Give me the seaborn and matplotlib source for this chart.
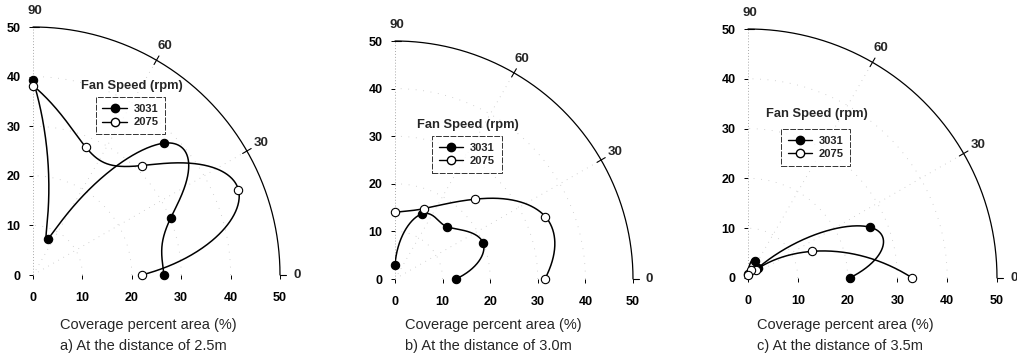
import numpy as np
import pandas as pd
import matplotlib
matplotlib.use("Agg")
import matplotlib.pyplot as plt
import seaborn as sns

sns.set_theme(style="white")
plt.rcParams['font.family'] = ['Liberation Sans', 'DejaVu Sans']

# ---- data (polar: angle in degrees, radius = coverage percent area) ----
angles = [0, 22.5, 45, 67.5, 90]
series_names = ["3031", "2075"]
p1_3031 = [26.5, 30.2, 37.6, 7.8, 39.3]
p1_2075 = [22.0, 45.0, 31.2, 27.9, 38.2]
p2_3031 = [12.8, 20.0, 15.5, 14.8, 3.0]
p2_2075 = [31.5, 34.2, 23.7, 16.0, 14.0]
p3_3031 = [20.4, 26.6, 2.9, 3.7, 0.8]
p3_2075 = [33.0, 14.0, 2.4, 1.8, 0.6]
captions = ["a) At the distance of 2.5m", "b) At the distance of 3.0m", "c) At the distance of 3.5m"]
xlabel = "Coverage percent area (%)"
ticks = [0, 10, 20, 30, 40, 50]
angle_labels = ["0", "30", "60", "90"]
legend_title = "Fan Speed (rpm)"

panels = [(p1_3031, p1_2075), (p2_3031, p2_2075), (p3_3031, p3_2075)]

W, H = 1017, 360
# axes boxes in pixels (left, right, top, bottom) mapping data 0..50
boxes = [(33, 280, 27, 275), (395, 633, 41, 279), (748, 997, 29, 278)]
legend_pos = [((20.0, 38.2), (12.7, 35.8)), ((15.3, 32.4), (7.8, 30.0)), ((13.9, 32.9), (6.6, 29.9))]
caption_left = [60, 405, 757]


def natural_spline(t, y, tt):
    t = np.asarray(t, float)
    y = np.asarray(y, float)
    n = len(t)
    h = np.diff(t)
    A = np.zeros((n, n))
    rhs = np.zeros(n)
    A[0, 0] = 1
    A[-1, -1] = 1
    for i in range(1, n - 1):
        A[i, i - 1] = h[i - 1]
        A[i, i] = 2 * (h[i - 1] + h[i])
        A[i, i + 1] = h[i]
        rhs[i] = 6 * ((y[i + 1] - y[i]) / h[i] - (y[i] - y[i - 1]) / h[i - 1])
    M = np.linalg.solve(A, rhs)
    idx = np.clip(np.searchsorted(t, tt, side='right') - 1, 0, n - 2)
    hh = h[idx]
    a = (t[idx + 1] - tt) / hh
    b = (tt - t[idx]) / hh
    return a * y[idx] + b * y[idx + 1] + ((a ** 3 - a) * M[idx] + (b ** 3 - b) * M[idx + 1]) * hh ** 2 / 6


fig = plt.figure(figsize=(W / 100, H / 100), dpi=100)
ang_arr = np.array(angles, float)
ang_rad = np.deg2rad(ang_arr)
theta_fine = np.linspace(0, 90, 500)

for k, (box, (r1, r2)) in enumerate(zip(boxes, panels)):
    l, r, t, b = box
    ax = fig.add_axes([l / W, 1 - b / H, (r - l) / W, (b - t) / H])
    ax.set_xlim(0, 50)
    ax.set_ylim(0, 50)
    for s in ax.spines.values():
        s.set_visible(False)

    # faint dotted grid
    th = np.linspace(0, np.pi / 2, 200)
    for rr in [10, 20, 30, 40]:
        ax.plot(rr * np.cos(th), rr * np.sin(th), ls=(0, (1, 8)), color='#c4c4c4', lw=0.6, zorder=1)
    for a in [30, 60]:
        ar = np.deg2rad(a)
        ax.plot([0, 50 * np.cos(ar)], [0, 50 * np.sin(ar)], ls=(0, (1, 6)), color='#c4c4c4', lw=0.6, zorder=1)
    ax.plot([0, 0], [0, 50], ls=(0, (1, 2)), color='#a8a8a8', lw=0.7, zorder=1, clip_on=False)

    # outer arc
    ax.plot(50 * np.cos(th), 50 * np.sin(th), color='black', lw=0.9, zorder=2, clip_on=False)
    for a, lab in zip([0, 30, 60, 90], angle_labels):
        ar = np.deg2rad(a)
        if a in (30, 60):
            ax.plot([49 * np.cos(ar), 51 * np.cos(ar)], [49 * np.sin(ar), 51 * np.sin(ar)],
                    color='black', lw=0.8, clip_on=False)
        if a == 0:
            ax.plot([50, 51.3], [0, 0], color='black', lw=0.8, clip_on=False)
            ax.text(53.5, 0, lab, ha='center', va='center', fontsize=9.5, fontweight='bold', clip_on=False)
        elif a == 90:
            ax.plot([0, 1.3], [50, 50], color='black', lw=0.8, clip_on=False)
            ax.text(0.4, 53.3, lab, ha='center', va='center', fontsize=9.5, fontweight='bold', clip_on=False)
        else:
            ax.text(53.3 * np.cos(ar), 53.3 * np.sin(ar), lab, ha='center', va='center',
                    fontsize=9.5, fontweight='bold', clip_on=False)

    # data series: spline of radius vs angle, drawn in Cartesian
    handles = []
    for name, radii, fc in zip(series_names, (r1, r2), ('black', 'white')):
        rad = np.array(radii, float)
        r_fine = np.clip(natural_spline(ang_arr, rad, theta_fine), 0, None)
        cx = r_fine * np.cos(np.deg2rad(theta_fine))
        cy = r_fine * np.sin(np.deg2rad(theta_fine))
        xs = rad * np.cos(ang_rad)
        ys = rad * np.sin(ang_rad)
        sns.lineplot(x=cx, y=cy, sort=False, estimator=None, color='black', lw=1.1, ax=ax, zorder=3)
        sns.scatterplot(x=xs, y=ys, color=fc, edgecolor='black', linewidth=0.8, s=36, ax=ax,
                        zorder=4, clip_on=False)
        handles.append(plt.Line2D([], [], color='black', lw=1.0, marker='o', markersize=6,
                                  markerfacecolor=fc, markeredgecolor='black', label=name))

    (tx, ty), (lx, ly) = legend_pos[k]
    ax.text(tx, ty, legend_title, ha='center', va='center', fontsize=9.3, fontweight='bold')
    leg = ax.legend(handles=handles, loc='upper left', bbox_to_anchor=(lx, ly),
                    bbox_transform=ax.transData, frameon=True, fontsize=8, handlelength=2.2,
                    handletextpad=0.6, borderpad=0.6, labelspacing=0.3, fancybox=False,
                    borderaxespad=0)
    leg.get_frame().set_edgecolor('black')
    leg.get_frame().set_linewidth(0.7)
    leg.get_frame().set_linestyle((0, (6, 1.5)))
    for txt in leg.get_texts():
        txt.set_fontweight('bold')

    ax.set_xticks(ticks)
    ax.set_yticks(ticks)
    ax.set_xticklabels([str(v) for v in ticks], fontsize=9, fontweight='bold')
    ax.set_yticklabels([str(v) for v in ticks], fontsize=9, fontweight='bold')
    ax.tick_params(axis='x', direction='out', length=3, width=0.7, pad=9, bottom=True, colors='black')
    ax.tick_params(axis='y', direction='out', length=3, width=0.7, pad=6, left=True, colors='black')
    ax.set_xlabel("")
    ax.set_ylabel("")
    ax.grid(False)

    cl = caption_left[k]
    fig.text(cl / W, 1 - 325 / H, xlabel, ha='left', va='center', fontsize=10.5)
    fig.text(cl / W, 1 - 346 / H, captions[k], ha='left', va='center', fontsize=10.5)

fig.savefig("out.png", dpi=100)
